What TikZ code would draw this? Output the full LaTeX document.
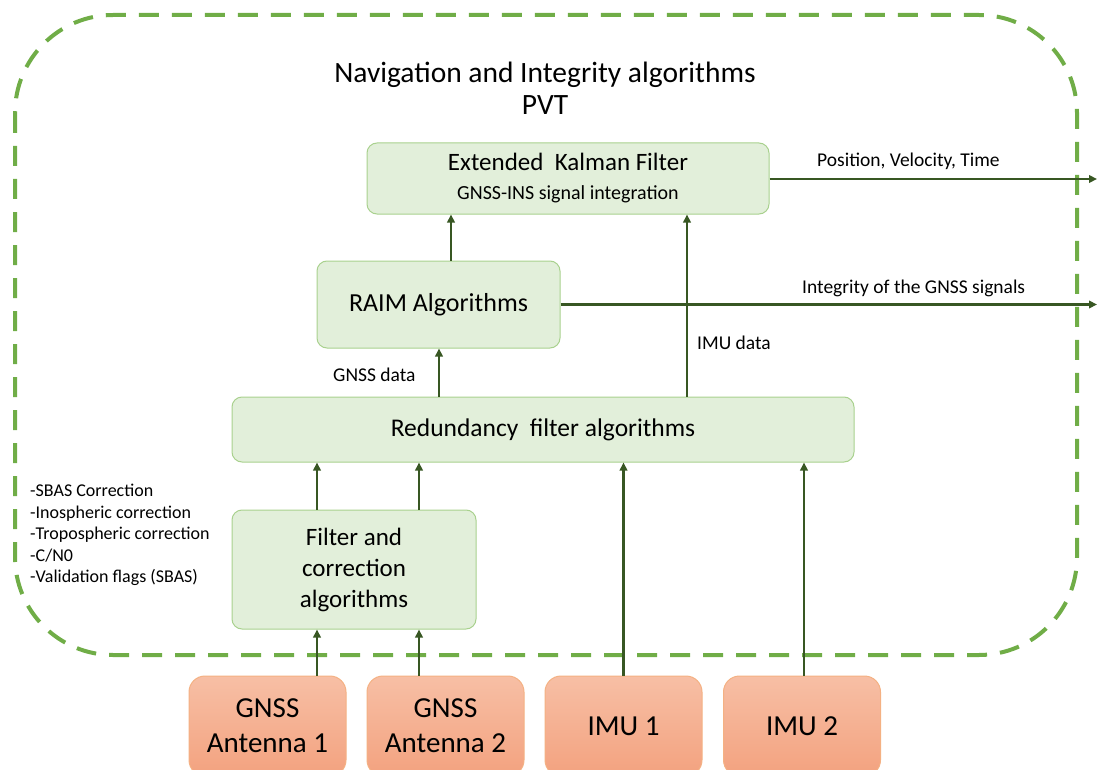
\documentclass[tikz,border=0pt]{standalone}
\usepackage{fontspec}
\setmainfont{Carlito}
\usetikzlibrary{arrows.meta,calc}
\definecolor{boxfill}{HTML}{E2EFDA}
\definecolor{boxdraw}{HTML}{A9D18E}
\definecolor{dashgreen}{HTML}{70AD47}
\definecolor{arrgreen}{HTML}{385723}
\definecolor{orgtop}{HTML}{F7BFA5}
\definecolor{orgbot}{HTML}{F3A27F}
\definecolor{orgdraw}{HTML}{F4B183}
\begin{document}
\begin{tikzpicture}[x=1pt,y=-1pt,
  gbox/.style={draw=boxdraw,fill=boxfill,line width=1pt,rounded corners=10pt,inner sep=0pt,align=center},
  obox/.style={draw=orgdraw,top color=orgtop,bottom color=orgbot,line width=1pt,rounded corners=16pt,inner sep=0pt,align=center,minimum width=157pt,minimum height=100pt,font=\fontsize{29}{35}\selectfont},
  arr/.style={draw=arrgreen,line width=2.2pt,-{Triangle[length=8pt,width=7.5pt]}},
  lbl/.style={font=\fontsize{19.5}{23}\selectfont,inner sep=0pt}]
\useasboundingbox (0,0) rectangle (1097,770);
\clip (0,0) rectangle (1097,770);
% dashed frame
\draw[dashgreen,line width=4pt,dash pattern=on 20pt off 13pt,rounded corners=98pt] (15,15) rectangle (1077,655);
% title
\node (title) at (545,88) [align=center,font=\fontsize{29.5}{32}\selectfont,inner sep=0pt] {Navigation and Integrity algorithms\\PVT};
% boxes
\node[gbox,minimum width=402pt,minimum height=71pt,font=\fontsize{25}{29}\selectfont] (ekf) at (568,178.5)
  {Extended\ \ Kalman Filter\\\fontsize{20}{29}\selectfont GNSS-INS signal integration};
\node[gbox,minimum width=243pt,minimum height=87pt,font=\fontsize{26}{30}\selectfont] (raim) at (438.5,304.5) {RAIM Algorithms};
\node[gbox,minimum width=622pt,minimum height=65pt,font=\fontsize{25.5}{30}\selectfont] (red) at (543,429.5) {Redundancy\ \ filter algorithms};
\node[gbox,minimum width=244pt,minimum height=119pt,font=\fontsize{25}{31}\selectfont] (filt) at (354,569.5) {Filter and\\correction\\algorithms};
\node[obox] (g1) at (267.5,726) {GNSS\\Antenna 1};
\node[obox] (g2) at (445.5,726) {GNSS\\Antenna 2};
\node[obox] (i1) at (623.5,726) {IMU 1};
\node[obox] (i2) at (802,726) {IMU 2};
% left list
\node[inner sep=0pt,anchor=north west,align=left,font=\fontsize{18}{21.5}\selectfont] (list) at (30,484)
  {-SBAS Correction\\-Inospheric correction\\-Tropospheric correction\\-C/N0\\-Validation flags (SBAS)};
% helper x coordinates
\coordinate (xa) at (317,0);
\coordinate (xb) at (419,0);
\coordinate (xc) at (451,0);
\coordinate (xd) at (439,0);
\coordinate (xe) at (687,0);
\coordinate (xf) at (804,0);
\coordinate (outr) at (1097,0);
% arrows
\draw[arr] (g1.north -| xa) -- (filt.south -| xa);
\draw[arr] (g2.north -| xb) -- (filt.south -| xb);
\draw[arr] (filt.north -| xa) -- (red.south -| xa);
\draw[arr] (filt.north -| xb) -- (red.south -| xb);
\draw[arr] (i1.north) -- (red.south -| i1.north);
\draw[arr] (i2.north -| xf) -- (red.south -| xf);
\draw[arr] (red.north -| xd) -- (raim.south -| xd);
\draw[arr] (raim.north -| xc) -- (ekf.south -| xc);
\draw[arr] (red.north -| xe) -- (ekf.south -| xe);
\draw[arr] (ekf.east |- 0,179) -- (outr |- 0,179);
\draw[arr] (raim.east) -- (raim.east -| outr);
% labels
\node[lbl,anchor=west] (lpvt) at (817,161) {Position, Velocity, Time};
\node[lbl,anchor=west] (lint) at (802,288) {Integrity of the GNSS signals};
\node[lbl,anchor=west] (limu) at (697,343) {IMU data};
\node[lbl,anchor=west] (lgnss) at (333,375) {GNSS data};
\end{tikzpicture}
\end{document}
